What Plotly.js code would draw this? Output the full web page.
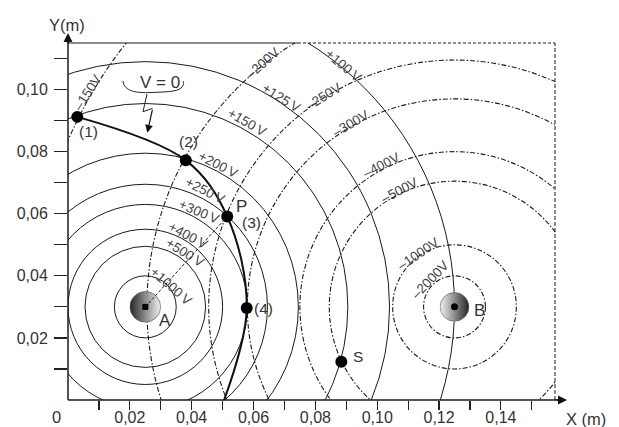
<!DOCTYPE html>
<html><head><meta charset="utf-8">
<script src="https://cdn.plot.ly/plotly-3.0.1.min.js"></script>
<style>html,body{margin:0;padding:0;background:#fff}#chart{width:619px;height:427px}</style>
</head><body><div id="chart"></div>
<script>
// ---------------- data ----------------
const chargeNames = ['A', 'B'];
const chargeX = [0.025, 0.125];
const chargeY = [0.030, 0.030];

const potentialsA = [1000, 500, 400, 300, 250, 200, 150, 125, 100];
const radiiA      = [0.0100, 0.0195, 0.0250, 0.0330, 0.0395, 0.0495, 0.0655, 0.0790, 0.1000];
const potentialsB = [-2000, -1000, -500, -400, -300, -250, -200, -150];
const radiiB      = [0.0100, 0.0200, 0.0405, 0.0500, 0.0670, 0.0795, 0.0995, 0.1360];

const pointNames = ['(1)', '(2)', '(3)', '(4)', 'S'];
const pointX = [0.0030, 0.0381, 0.0515, 0.0578, 0.0884];
const pointY = [0.0912, 0.0772, 0.0591, 0.0296, 0.0123];

const zeroLineX = [0.0030, 0.0381, 0.0515, 0.0578, 0.0505];
const zeroLineY = [0.0912, 0.0772, 0.0591, 0.0296, 0.0000];

const xTickVals = [0.01,0.02,0.03,0.04,0.05,0.06,0.07,0.08,0.09,0.10,0.11,0.12,0.13,0.14,0.15];
const xTickText = ['', '0,02', '', '0,04', '', '0,06', '', '0,08', '', '0,10', '', '0,12', '', '0,14', ''];
const yTickVals = [0.01,0.02,0.03,0.04,0.05,0.06,0.07,0.08,0.09,0.10,0.11];
const yTickText = ['', '0,02', '', '0,04', '', '0,06', '', '0,08', '', '0,10', ''];

// ---------------- layout helpers ----------------
const XR = [0, 0.1575], YR = [0, 0.115];
const L = 68, T = 43, PW = 487, PH = 357;
const pxPerX = PW / (XR[1] - XR[0]), pxPerY = PH / (YR[1] - YR[0]);
function px2d(px, py) { return [(px - L) / pxPerX, (T + PH - py) / pxPerY]; }
function pathPx(cmds) {
  return cmds.map(c => {
    const pts = [];
    for (let i = 1; i < c.length; i += 2) { const d = px2d(c[i], c[i+1]); pts.push(d[0].toFixed(5) + ',' + d[1].toFixed(5)); }
    return c[0] + pts.join(' ');
  }).join(' ');
}

// label placement along circles: [polar angle deg, offset px, text angle]
const labelPosA = [[37.7,2,41],[54,7,32],[59,6,28],[60.8,7,23],[62.8,8,27],[62.9,6,27],[61,8,30],[57,4,32],[50.5,2,40]];
const labelPosB = [[131.6,5,-46],[123.9,2,-34],[115.5,3,-28],[117.6,4,-27],[119.6,3,-30],[122,1,-32],[128.4,2,-41],[149.8,4,-57]];

const shapes = [];
const annotations = [];
const images = [];
const solidLine = {color: '#1a1a1a', width: 1};
const dashLine = {color: '#1a1a1a', width: 1.1, dash: '5px,2px,1.5px,2px'};

function addCircles(cx, cy, radii, line) {
  radii.forEach(r => shapes.push({type: 'circle', xref: 'x', yref: 'y',
    x0: cx - r, x1: cx + r, y0: cy - r, y1: cy + r, line: line, layer: 'below'}));
}
addCircles(chargeX[0], chargeY[0], radiiA, solidLine);
addCircles(chargeX[1], chargeY[1], radiiB, dashLine);

function fmtV(v) { return (v > 0 ? '+' : '\u2013') + Math.abs(v) + (v > 0 ? '\u2009V' : 'V'); }
function addLabels(cx, cy, pots, radii, pos) {
  pots.forEach((v, i) => {
    const [phi, off, ta] = pos[i];
    const a = phi * Math.PI / 180;
    annotations.push({xref: 'x', yref: 'y',
      x: cx + (radii[i] + off / pxPerX) * Math.cos(a),
      y: cy + (radii[i] + off / pxPerY) * Math.sin(a),
      text: fmtV(v), textangle: ta, showarrow: false,
      font: {family: 'Liberation Sans, Arial, sans-serif', size: 13.5, color: '#444'}});
  });
}
addLabels(chargeX[0], chargeY[0], potentialsA, radiiA, labelPosA);
addLabels(chargeX[1], chargeY[1], potentialsB, radiiB, labelPosB);

// dashed radius from A to P
shapes.push({type: 'line', xref: 'x', yref: 'y', x0: chargeX[0], y0: chargeY[0], x1: pointX[2], y1: pointY[2],
  line: {color: '#1a1a1a', width: 1, dash: '3px,2px'}});

// frame: top (solid then dashed) and right (dashed)
const topSplit = (298 - L) / PW;
shapes.push({type: 'line', xref: 'paper', yref: 'paper', x0: 0, x1: topSplit, y0: 1, y1: 1, line: {color: '#1a1a1a', width: 1.2}});
shapes.push({type: 'line', xref: 'paper', yref: 'paper', x0: topSplit, x1: 1, y0: 1, y1: 1, line: {color: '#1a1a1a', width: 1, dash: '3px,2px'}});
shapes.push({type: 'line', xref: 'paper', yref: 'paper', x0: 1, x1: 1, y0: 0, y1: 1, line: {color: '#1a1a1a', width: 1, dash: '4px,2px'}});
// axes with arrows
const xEnd = (567 - L) / PW, yEnd = (T + PH - 33) / PH;
shapes.push({type: 'line', xref: 'paper', yref: 'paper', x0: 0, x1: xEnd - 0.01, y0: 0, y1: 0, line: {color: '#1a1a1a', width: 1.5}});
shapes.push({type: 'line', xref: 'paper', yref: 'paper', x0: 0, x1: 0, y0: 0, y1: yEnd - 0.01, line: {color: '#1a1a1a', width: 1.5}});
annotations.push({xref: 'paper', yref: 'paper', x: xEnd, y: 0, ax: -12, ay: 0, text: '', showarrow: true,
  arrowhead: 2, arrowsize: 1.2, arrowwidth: 1.5, arrowcolor: '#111', standoff: 0});
annotations.push({xref: 'paper', yref: 'paper', x: 0, y: yEnd, ax: 0, ay: 12, text: '', showarrow: true,
  arrowhead: 2, arrowsize: 1.2, arrowwidth: 1.5, arrowcolor: '#111', standoff: 0});

// "V = 0" callout: bracket + lightning arrow
shapes.push({type: 'path', xref: 'x', yref: 'y', line: {color: '#222', width: 1},
  path: pathPx([['M',123,81],['C',124,92, 138,93, 150,92.5],['C',164,92, 177,92, 181,88],['C',184,85, 184,83, 183,81]])});
shapes.push({type: 'path', xref: 'x', yref: 'y', line: {color: '#222', width: 1},
  path: pathPx([['M',147,94],['L',143,111.7],['L',152.7,108.3]])});
(function(){ const tip = px2d(147.3, 132.7);
  annotations.push({xref: 'x', yref: 'y', x: tip[0], y: tip[1], ax: 5.4, ay: -24.4, text: '', showarrow: true,
    arrowhead: 2, arrowsize: 1.3, arrowwidth: 1.2, arrowcolor: '#111', standoff: 0}); })();
(function(){ const c = px2d(159.5, 82);
  annotations.push({xref: 'x', yref: 'y', x: c[0], y: c[1], text: 'V = 0', showarrow: false,
    font: {family: 'Liberation Sans, Arial, sans-serif', size: 17, color: '#333'}}); })();

// point labels
const ptShift = [[11,-15],[3,19],[24,-6],[17,0],[17,5]];
const ptFont = {family: 'Liberation Sans, Arial, sans-serif', size: 15.5, color: '#333'};
pointNames.forEach((n, i) => annotations.push({xref: 'x', yref: 'y', x: pointX[i], y: pointY[i], text: n, showarrow: false,
  xshift: ptShift[i][0], yshift: ptShift[i][1], font: ptFont}));
annotations.push({xref: 'x', yref: 'y', x: pointX[2], y: pointY[2], text: 'P', showarrow: false, xshift: 14, yshift: 10,
  font: {family: 'Liberation Sans, Arial, sans-serif', size: 17, color: '#333'}});
const chShift = [[20,-14],[25,-4]];
chargeNames.forEach((n, i) => annotations.push({xref: 'x', yref: 'y', x: chargeX[i], y: chargeY[i], text: n, showarrow: false,
  xshift: chShift[i][0], yshift: chShift[i][1], font: {family: 'Liberation Sans, Arial, sans-serif', size: 17, color: '#333'}}));

// shaded spheres for the charges
function sphereSvg(c0, c1) {
  const s = "<svg xmlns='http://www.w3.org/2000/svg' viewBox='0 0 100 100'><defs><linearGradient id='g' x1='0' y1='0' x2='1' y2='0'>" +
    "<stop offset='0' stop-color='" + c0 + "'/><stop offset='1' stop-color='" + c1 + "'/></linearGradient></defs>" +
    "<circle cx='50' cy='50' r='48' fill='url(#g)' stroke='#555' stroke-width='2'/></svg>";
  return 'data:image/svg+xml;charset=utf-8,' + encodeURIComponent(s);
}
const sphereColors = [['#262626', '#f0f0f0'], ['#f2f2f2', '#262626']];
const spherePx = [32, 30];
chargeNames.forEach((n, i) => {
  const rx = spherePx[i] / 2 / pxPerX, ry = spherePx[i] / 2 / pxPerY;
  images.push({source: sphereSvg(sphereColors[i][0], sphereColors[i][1]), xref: 'x', yref: 'y',
    x: chargeX[i] - rx, y: chargeY[i] + ry, sizex: 2 * rx, sizey: 2 * ry, sizing: 'stretch',
    xanchor: 'left', yanchor: 'top', layer: 'below'});
});

// axis titles and origin
const axFont = {family: 'Liberation Sans, Arial, sans-serif', size: 16.5, color: '#333'};
function paperText(px, py, t) {
  annotations.push({xref: 'paper', yref: 'paper', x: (px - L) / PW, y: (T + PH - py) / PH, text: t, showarrow: false,
    xanchor: 'center', yanchor: 'middle', font: axFont});
}
paperText(67, 25, 'Y(m)');
paperText(586, 419, 'X (m)');
paperText(56, 417, '0');

// ---------------- traces ----------------
const traces = [
  {type: 'scatter', mode: 'lines', x: zeroLineX, y: zeroLineY, line: {color: '#111', width: 2, shape: 'spline', smoothing: 1}, hoverinfo: 'skip'},
  {type: 'scatter', mode: 'markers', x: [chargeX[0]], y: [chargeY[0]], marker: {size: 6, symbol: 'square', color: '#000'}},
  {type: 'scatter', mode: 'markers', x: [chargeX[1]], y: [chargeY[1]], marker: {size: 7, symbol: 'circle', color: '#000'}},
  {type: 'scatter', mode: 'markers', x: pointX, y: pointY, marker: {size: 12, color: '#000'}}
];

const tickFont = {family: 'Liberation Sans, Arial, sans-serif', size: 16, color: '#333'};
const layout = {
  width: 619, height: 427, showlegend: false,
  margin: {l: L, r: 619 - L - PW, t: T, b: 427 - T - PH, pad: 0},
  paper_bgcolor: '#fff', plot_bgcolor: '#fff',
  xaxis: {range: XR, showgrid: false, zeroline: false, showline: false, ticks: 'outside', ticklen: 9, tickwidth: 1.2,
    tickcolor: '#222', tickvals: xTickVals, ticktext: xTickText, tickfont: tickFont, ticklabelstandoff: -6, fixedrange: true},
  yaxis: {range: YR, showgrid: false, zeroline: false, showline: false, ticks: 'outside', ticklen: 13, tickwidth: 1.2,
    tickcolor: '#222', tickvals: yTickVals, ticktext: yTickText, tickfont: tickFont, ticklabelstandoff: 3, fixedrange: true},
  shapes: shapes, annotations: annotations, images: images
};
Plotly.newPlot('chart', traces, layout, {displayModeBar: false, staticPlot: true});
</script></body></html>
